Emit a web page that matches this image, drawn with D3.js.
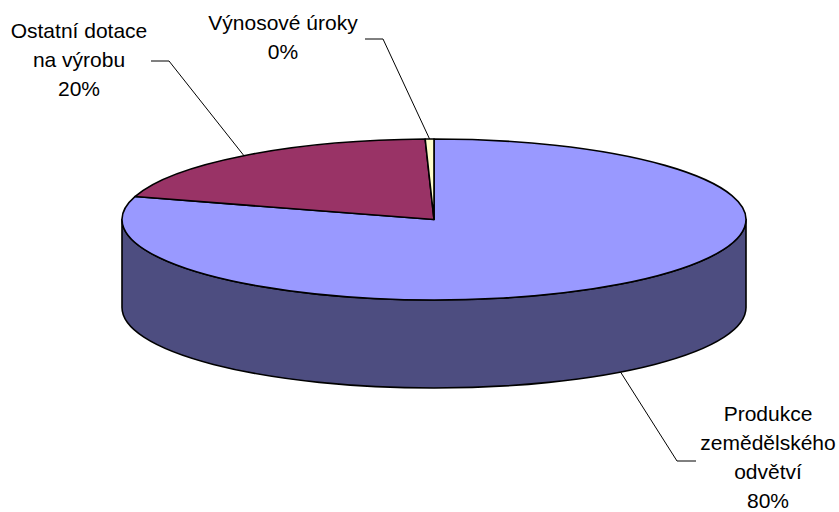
<!DOCTYPE html>
<html>
<head>
<meta charset="utf-8">
<script src="https://cdn.jsdelivr.net/npm/d3@7"></script>
<style>
  body { margin: 0; background: #fff; }
  svg { display: block; }
  text { font-family: "Liberation Sans", Arial, sans-serif; font-size: 21px; fill: #000; }
</style>
</head>
<body>
<svg id="svg"></svg>
<script>
// data (shares in %)
const categories = ["Produkce zemědělského odvětví", "Ostatní dotace na výrobu", "Výnosové úroky"];
const values = [79.6, 19.95, 0.45];
const colors = ["#9999FF", "#993366", "#FFFFCC"];
// label lines as shown in the chart
const labelLines = [
    ["Produkce", "zemědělského", "odvětví"],
    ["Ostatní dotace", "na výrobu"],
    ["Výnosové úroky"]
];

const width = 839;
const height = 512;

// pie geometry
const cx = 434;
const cy = 219.5;
const rx = 312;
const ry = 80.5;
const depth = 88;

// where each label block sits (center x, first baseline) and its leader elbow
const labelPos = [
    { x: 768, y: 421, elbow: [677, 461], end: [696, 461] },
    { x: 79, y: 38, elbow: [169, 61], end: [151, 61] },
    { x: 283, y: 30, elbow: [383, 39], end: [365, 39] }
];
const lineHeight = 29;

let svg = d3.select("#svg")
    .attr("width", width)
    .attr("height", height);

function pt(a, dz = 0) {
    return [cx + rx * Math.sin(a), cy - ry * Math.cos(a) + dz];
}

function sideColor(c) {
    let rgb = d3.rgb(c);
    return d3.rgb(rgb.r * 0.5, rgb.g * 0.5, rgb.b * 0.5).formatHex();
}

let pie = d3.pie().sort(null).startAngle(0).endAngle(2 * Math.PI);
let arcs = pie(values);

let chart = svg.append("g");

// side walls (only the front half, angles between 90 and 270 deg)
arcs.forEach((d, i) => {
    let s0 = Math.max(d.startAngle, Math.PI / 2);
    let s1 = Math.min(d.endAngle, 3 * Math.PI / 2);
    if (s1 <= s0) return;
    let p0 = pt(s0), p1 = pt(s1), p2 = pt(s1, depth), p3 = pt(s0, depth);
    let path = `M${p0} A${rx},${ry} 0 0 1 ${p1} L${p2} A${rx},${ry} 0 0 0 ${p3} Z`;
    chart.append("path")
        .attr("d", path)
        .attr("fill", sideColor(colors[i]))
        .attr("stroke", "#000")
        .attr("stroke-width", 1.6)
        .attr("stroke-linejoin", "round");
});

// top faces
arcs.forEach((d, i) => {
    let p0 = pt(d.startAngle), p1 = pt(d.endAngle);
    let large = (d.endAngle - d.startAngle) > Math.PI ? 1 : 0;
    let path = `M${cx},${cy} L${p0} A${rx},${ry} 0 ${large} 1 ${p1} Z`;
    chart.append("path")
        .attr("d", path)
        .attr("fill", colors[i])
        .attr("stroke", "#000")
        .attr("stroke-width", 1.6)
        .attr("stroke-linejoin", "round");
});

// labels + leader lines
let total = d3.sum(values);
arcs.forEach((d, i) => {
    let mid = (d.startAngle + d.endAngle) / 2;
    // front slices get the anchor on the lower rim
    let dz = Math.cos(mid) < 0 ? depth : 0;
    let anchor = pt(mid, dz);
    let lp = labelPos[i];

    chart.append("polyline")
        .attr("points", [anchor, lp.elbow, lp.end].map(p => p.join(",")).join(" "))
        .attr("fill", "none")
        .attr("stroke", "#000")
        .attr("stroke-width", 1);

    let lines = labelLines[i].concat([Math.round(values[i] / total * 100) + "%"]);
    let t = chart.append("text")
        .attr("text-anchor", "middle");
    lines.forEach((l, j) => {
        t.append("tspan")
            .attr("x", lp.x)
            .attr("y", lp.y + j * lineHeight)
            .text(l);
    });
});
</script>
</body>
</html>
